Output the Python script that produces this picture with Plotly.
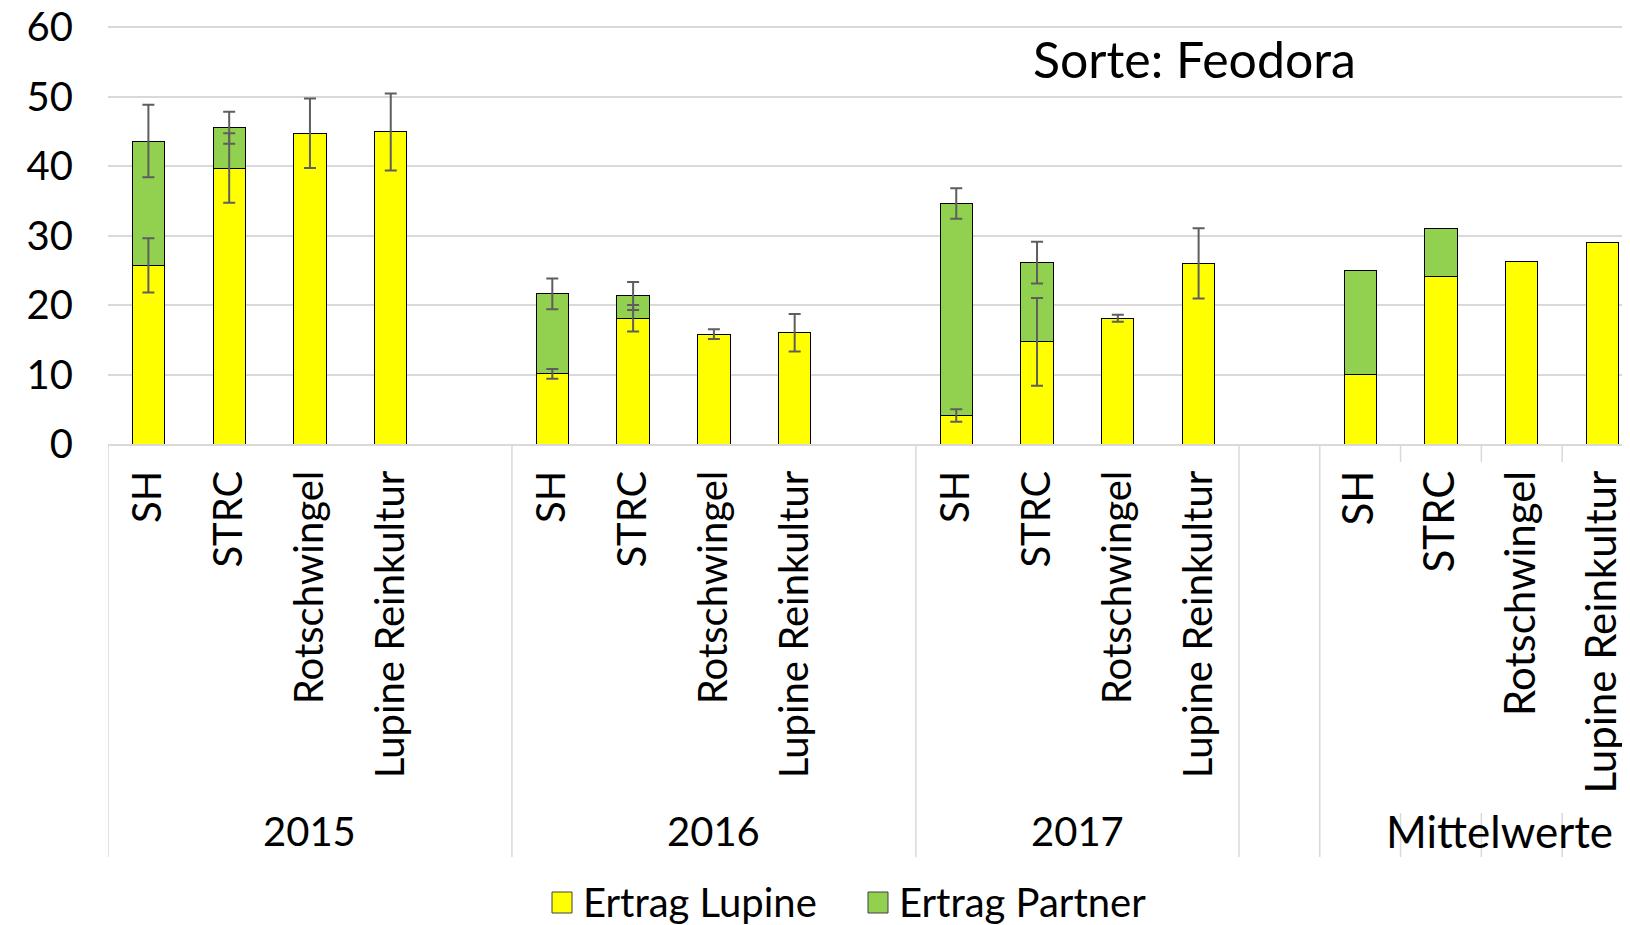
import plotly.graph_objects as go

# ---- data ----
years = ["2015", "2016", "2017", "Mittelwerte"]
varianten = ["SH", "STRC", "Rotschwingel", "Lupine Reinkultur"]
series_names = ["Ertrag Lupine", "Ertrag Partner"]
y_ticks = [0, 10, 20, 30, 40, 50, 60]

# slot index of each bar on the category axis (gaps are empty slots)
slots = [0, 1, 2, 3, 5, 6, 7, 8, 10, 11, 12, 13, 15, 16, 17, 18]
labels = varianten * 4

ertrag_lupine = [25.7, 39.7, 44.7, 44.9,
                 10.1, 18.1, 15.8, 16.0,
                 4.1, 14.7, 18.1, 26.0,
                 10.0, 24.1, 26.2, 29.0]
ertrag_partner = [17.9, 5.8, 0, 0,
                  11.5, 3.2, 0, 0,
                  30.5, 11.4, 0, 0,
                  14.9, 6.9, 0, 0]
err_lupine = [3.9, 5.0, 5.0, 5.55,
              0.7, 1.9, 0.7, 2.7,
              0.9, 6.3, 0.5, 5.05,
              None, None, None, None]
err_partner = [5.2, 2.3, None, None,
               2.2, 2.0, None, None,
               2.2, 3.0, None, None,
               None, None, None, None]

group_centers = [2, 7, 11.5, 16.73]
group_dividers = [-0.5, 4.5, 9.5, 13.5, 14.5]
inner_dividers = [15.5, 16.5, 17.5]

FONT = "Lato"
GRID = "#D9D9D9"
ERR = "#5E5E5E"
COLORS = ["#FFFF00", "#92D050"]

fig = go.Figure()

fig.add_trace(go.Bar(
    name=series_names[0], x=slots, y=ertrag_lupine, width=0.40,
    marker=dict(color=COLORS[0], line=dict(color="#000000", width=1)),
))
partner_y = [v if v > 0 else None for v in ertrag_partner]
fig.add_trace(go.Bar(
    name=series_names[1], x=slots, y=partner_y, width=0.40,
    marker=dict(color=COLORS[1], line=dict(color="#000000", width=1)),
))

# error bars drawn above all bars
ex, ey, ee = [], [], []
for s, v, e in zip(slots, ertrag_lupine, err_lupine):
    if e is not None:
        ex.append(s); ey.append(v); ee.append(e)
fig.add_trace(go.Scatter(
    x=ex, y=ey, mode="markers", marker=dict(size=1, opacity=0),
    showlegend=False, hoverinfo="skip",
    error_y=dict(type="data", array=ee, visible=True,
                 color=ERR, thickness=2, width=6),
))
px_, py_, pe = [], [], []
for s, v, p, e in zip(slots, ertrag_lupine, ertrag_partner, err_partner):
    if e is not None:
        px_.append(s); py_.append(v + p); pe.append(e)
fig.add_trace(go.Scatter(
    x=px_, y=py_, mode="markers", marker=dict(size=1, opacity=0),
    showlegend=False, hoverinfo="skip",
    error_y=dict(type="data", array=pe, visible=True,
                 color=ERR, thickness=2, width=6),
))

def tick_text(i, name):
    if i >= 12:
        return '<span style="font-size:42px">' + name + '</span>'
    return name

# the page body adds an 8px offset; margins compensate for it
fig.update_layout(
    width=1630, height=925,
    margin=dict(l=100, r=8, t=18, b=489),
    barmode="stack",
    paper_bgcolor="white", plot_bgcolor="white",
    font=dict(family=FONT, color="#000000", size=40),
    showlegend=False,
    xaxis=dict(range=[-0.5, 18.34], showgrid=False, zeroline=False,
               automargin=False,
               showline=True, linecolor=GRID, linewidth=1.5,
               tickmode="array", tickvals=slots,
               ticktext=[tick_text(i, n) for i, n in enumerate(labels)],
               tickangle=-90, ticks="", ticklabelstandoff=9,
               ticklabeloverflow="allow",
               tickfont=dict(size=40, family=FONT)),
    yaxis=dict(range=[0, 60.15], tickvals=y_ticks,
               automargin=False,
               showgrid=True, gridcolor=GRID, gridwidth=1.5,
               zeroline=False, showline=False, ticks="",
               ticklabelstandoff=34, ticklabeloverflow="allow",
               tickfont=dict(size=40, family=FONT)),
)

def py(Y):
    return (444 - Y) / 418.0

def pxp(X):
    return (X - 108) / 1522.0

shapes = []
for d in group_dividers:
    shapes.append(dict(type="line", xref="x", yref="paper", x0=d, x1=d,
                       y0=0, y1=py(857), line=dict(color=GRID, width=1.5)))
for d in inner_dividers:
    shapes.append(dict(type="line", xref="x", yref="paper", x0=d, x1=d,
                       y0=0, y1=py(462), line=dict(color=GRID, width=1.5)))
    shapes.append(dict(type="line", xref="x", yref="paper", x0=d, x1=d,
                       y0=py(813), y1=py(857), line=dict(color=GRID, width=1.5)))

# legend (swatches + labels)
legend_x = [552, 868]
for lx, col in zip(legend_x, COLORS):
    shapes.append(dict(type="rect", xref="paper", yref="paper",
                       x0=pxp(lx), x1=pxp(lx + 20), y0=py(913), y1=py(892),
                       fillcolor=col, line=dict(color="#404040", width=1)))
fig.update_layout(shapes=shapes)

annotations = []
for i, (yr, xc) in enumerate(zip(years, group_centers)):
    annotations.append(dict(text=yr, xref="x", yref="paper", x=xc, y=py(831),
                            xanchor="center", yanchor="middle", showarrow=False,
                            font=dict(size=44 if i == 3 else 40, family=FONT)))
for lx, name in zip(legend_x, series_names):
    annotations.append(dict(text=name, xref="paper", yref="paper",
                            x=pxp(lx + 29), y=py(902), xanchor="left",
                            yanchor="middle", showarrow=False,
                            font=dict(size=40, family=FONT)))
annotations.append(dict(text="Sorte: Feodora", xref="paper", yref="paper",
                        x=pxp(1194), y=py(59), xanchor="center",
                        yanchor="middle", showarrow=False,
                        font=dict(size=50, family=FONT)))
fig.update_layout(annotations=annotations)

fig.write_html("out.html")
